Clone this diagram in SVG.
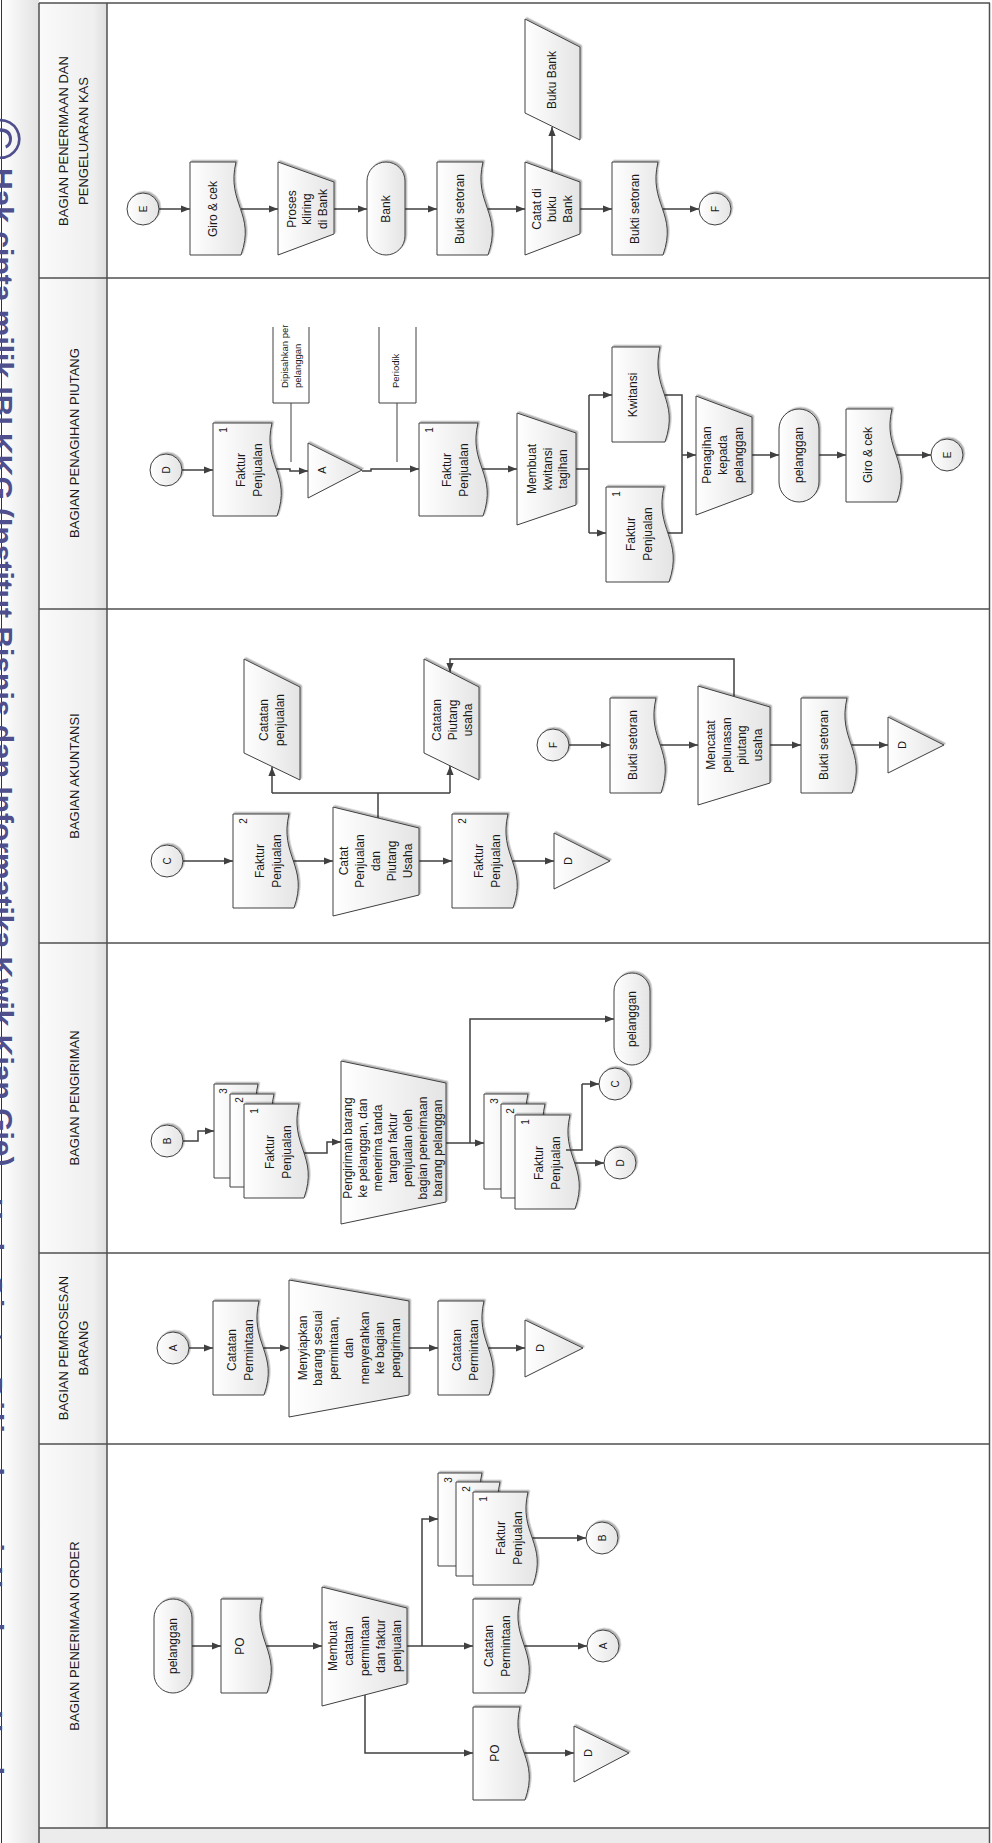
<svg xmlns="http://www.w3.org/2000/svg" width="992" height="1843" viewBox="0 0 992 1843">
<defs>
<linearGradient id="g" x1="0" y1="0" x2="1" y2="0"><stop offset="0" stop-color="#ffffff"/><stop offset="1" stop-color="#e4e4e4"/></linearGradient>
<linearGradient id="hg" x1="0" y1="0" x2="1" y2="0"><stop offset="0" stop-color="#fafafa"/><stop offset="0.8" stop-color="#efefef"/><stop offset="1" stop-color="#dedede"/></linearGradient>
<linearGradient id="lg" x1="0" y1="0" x2="1" y2="0"><stop offset="0" stop-color="#ffffff"/><stop offset="1" stop-color="#e2e2e2"/></linearGradient>
<filter id="sh" x="-20%" y="-20%" width="140%" height="140%"><feDropShadow dx="1.5" dy="-1.5" stdDeviation="0.7" flood-color="#000" flood-opacity="0.3"/></filter>
<marker id="ah" viewBox="0 0 10 8" refX="10" refY="4" markerWidth="9" markerHeight="7.2" markerUnits="userSpaceOnUse" orient="auto"><path d="M0,0L10,4L0,8Z" fill="#404040"/></marker>
</defs>
<style>
.n{fill:url(#g);stroke:#404040;stroke-width:1;filter:url(#sh)}
.c{fill:none;stroke:#404040;stroke-width:1.5}
.a{marker-end:url(#ah)}
.an{fill:none;stroke:#404040;stroke-width:1}
.ln{stroke:#505050;stroke-width:1.5;fill:none}
.t,.t tspan{font-family:"Liberation Sans",Arial,sans-serif;font-size:12px;fill:#1a1a1a;text-anchor:middle;dominant-baseline:central}
.s{font-size:10px}
.k{font-size:11px}
.num{font-family:"Liberation Sans",Arial,sans-serif;font-size:10px;fill:#1a1a1a;text-anchor:middle;dominant-baseline:central}
.note{font-family:"Liberation Sans",Arial,sans-serif;font-size:9.5px;fill:#1a1a1a;text-anchor:start;dominant-baseline:central}
.h,.h tspan{font-family:"Liberation Sans",Arial,sans-serif;font-size:13px;fill:#1a1a1a;text-anchor:middle;dominant-baseline:central}
.wm{font-family:"Liberation Sans",Arial,sans-serif;font-weight:bold;fill:#4f4f8e}
</style>

<g id="background">
<rect x="0" y="0" width="992" height="1843" fill="#ffffff"/>
<rect x="0" y="0" width="39" height="1843" fill="url(#lg)"/>
<rect x="39" y="3" width="68" height="1825" fill="url(#hg)"/>
<rect x="39" y="1828" width="951" height="15" fill="#ececec"/>
<line x1="1.5" y1="0" x2="1.5" y2="1843" stroke="#333" stroke-width="1"/>
</g>

<g id="watermark">
<text class="wm" font-size="57" text-anchor="middle" transform="translate(-20,139) rotate(90)" style="font-weight:normal">©</text>
<text class="wm" font-size="30" transform="translate(-8,168) rotate(90)">Hak cipta milik IBI KKG (Institut Bisnis dan Informatika Kwik Kian Gie)</text>
<text class="wm" font-size="30" transform="translate(-18,1198) rotate(90)" textLength="640" lengthAdjust="spacing">Hak Cipta Dilindungi Undang-Undang</text>
</g>

<g id="lanes">
<path class="ln" d="M39,3H990M39,278H990M39,609H990M39,943H990M39,1253H990M39,1444H990M39,1828H990"/>
<path class="ln" d="M39,3V1843M107,3V1828M989.5,3V1843"/>
<text class="h" transform="translate(73,141) rotate(-90)"><tspan x="0" y="-10">BAGIAN PENERIMAAN DAN</tspan><tspan x="0" y="10">PENGELUARAN KAS</tspan></text>
<text class="h" transform="translate(74,443) rotate(-90)">BAGIAN PENAGIHAN PIUTANG</text>
<text class="h" transform="translate(74,776) rotate(-90)">BAGIAN AKUNTANSI</text>
<text class="h" transform="translate(74,1098) rotate(-90)">BAGIAN PENGIRIMAN</text>
<text class="h" transform="translate(73,1348) rotate(-90)"><tspan x="0" y="-10">BAGIAN PEMROSESAN</tspan><tspan x="0" y="10">BARANG</tspan></text>
<text class="h" transform="translate(74,1636) rotate(-90)">BAGIAN PENERIMAAN ORDER</text>
</g>

<g id="connectors">
<path class="c a" d="M159,209H190"/>
<path class="c a" d="M241,209H278"/>
<path class="c a" d="M334,209H367"/>
<path class="c a" d="M405,209H437"/>
<path class="c a" d="M487,209H525"/>
<path class="c a" d="M580,209H612"/>
<path class="c a" d="M662,209H699"/>
<path class="c a" d="M552,172V127"/>

<path class="c a" d="M182,470H213"/>
<path class="c a" d="M276,469H290V471H308"/>
<path class="c a" d="M362,471H371V469H419"/>
<path class="c a" d="M482,469H517"/>
<path class="c" d="M576,469H589M589,395V533"/>
<path class="c a" d="M589,395H612"/>
<path class="c a" d="M589,533H606"/>
<path class="c" d="M664,395H682V533H668"/>
<path class="c a" d="M682,455H696"/>
<path class="c a" d="M752,455H779"/>
<path class="c a" d="M819,455H846"/>
<path class="c a" d="M896,455H931"/>
<path class="an" d="M273,327V403H309V327M291,403V462"/>
<path class="an" d="M379,327V403H416V327M397,403V462"/>

<path class="c a" d="M183,861H233"/>
<path class="c a" d="M293,861H333"/>
<path class="c a" d="M419,861H452"/>
<path class="c a" d="M512,861H554"/>
<path class="c" d="M378,818V793M272,793H450"/>
<path class="c a" d="M272,793V767"/>
<path class="c a" d="M450,793V766"/>
<path class="c a" d="M569,745H610"/>
<path class="c a" d="M660,745H698"/>
<path class="c a" d="M770,745H801"/>
<path class="c a" d="M851,745H888"/>
<path class="c a" d="M734,696V659H450V672"/>

<path class="c a" d="M183,1141H198V1131H214"/>
<path class="c a" d="M304,1153H327V1142H341"/>
<path class="c a" d="M446,1143H484"/>
<path class="c a" d="M470,1143V1019H614"/>

<path class="c a" d="M189,1348H213"/>
<path class="c a" d="M263,1348H289"/>
<path class="c a" d="M409,1348H438"/>
<path class="c a" d="M488,1348H525"/>

<path class="c a" d="M192,1646H221"/>
<path class="c a" d="M266,1646H322"/>
<path class="c a" d="M407,1646H473"/>
<path class="c a" d="M422,1646V1519H438"/>
<path class="c a" d="M532,1538H586"/>
<path class="c a" d="M524,1646H587"/>
<path class="c a" d="M365,1695V1753H473"/>
<path class="c a" d="M524,1753H574"/>
</g>

<!-- Lane 1 -->
<g id="n-e1"><circle class="n" cx="143" cy="209" r="16"/><text class="t s" transform="translate(143,209) rotate(-90)">E</text></g>
<g id="n-giro1"><path class="n" d="M190,162H236C226,204 256,213 241,255H190Z"/><text class="t" transform="translate(213,209) rotate(-90)">Giro &amp; cek</text></g>
<g id="n-kliring"><path class="n" d="M278,162L334,182L334,234L278,255Z"/><text class="t" transform="translate(307,209) rotate(-90)"><tspan x="0" y="-15.5">Proses</tspan><tspan x="0" y="0">kliring</tspan><tspan x="0" y="15.5">di Bank</tspan></text></g>
<g id="n-bank"><rect class="n" x="367" y="162" width="38" height="93" rx="19" ry="19"/><text class="t" transform="translate(386,209) rotate(-90)">Bank</text></g>
<g id="n-bukti1"><path class="n" d="M437,162H483C473,204 503,213 488,255H437Z"/><text class="t" transform="translate(460,209) rotate(-90)">Bukti setoran</text></g>
<g id="n-catatbuku"><path class="n" d="M525,162L580,182L580,234L525,255Z"/><text class="t" transform="translate(552,209) rotate(-90)"><tspan x="0" y="-15.5">Catat di</tspan><tspan x="0" y="0">buku</tspan><tspan x="0" y="15.5">Bank</tspan></text></g>
<g id="n-bukubank"><path class="n" d="M525,19L580,47L580,140L525,113Z"/><text class="t" transform="translate(552,80) rotate(-90)">Buku Bank</text></g>
<g id="n-bukti2"><path class="n" d="M612,162H658C648,204 678,213 663,255H612Z"/><text class="t" transform="translate(635,209) rotate(-90)">Bukti setoran</text></g>
<g id="n-f1"><circle class="n" cx="715" cy="209" r="16"/><text class="t s" transform="translate(715,209) rotate(-90)">F</text></g>

<!-- Lane 2 -->
<g id="n-d2"><circle class="n" cx="166" cy="470" r="16"/><text class="t s" transform="translate(166,470) rotate(-90)">D</text></g>
<g id="n-faktur2a"><path class="n" d="M213,423H272C262,465 292,474 277,516H213Z"/><text class="num" transform="translate(223,430) rotate(-90)">1</text><text class="t" transform="translate(249.5,470) rotate(-90)"><tspan x="0" y="-8.5">Faktur</tspan><tspan x="0" y="8.5">Penjualan</tspan></text></g>
<g id="n-note1"><text class="note" transform="translate(284,388) rotate(-90)">Dipisahkan per</text><text class="note" transform="translate(297,388) rotate(-90)">pelanggan</text></g>
<g id="n-filea"><polygon class="n" points="308,443 308,498 362,470"/><text class="t k" transform="translate(322,470) rotate(-90)">A</text></g>
<g id="n-note2"><text class="note" transform="translate(395,388) rotate(-90)">Periodik</text></g>
<g id="n-faktur2b"><path class="n" d="M419,423H478C468,465 498,474 483,516H419Z"/><text class="num" transform="translate(429,430) rotate(-90)">1</text><text class="t" transform="translate(455.5,470) rotate(-90)"><tspan x="0" y="-8.5">Faktur</tspan><tspan x="0" y="8.5">Penjualan</tspan></text></g>
<g id="n-kwtagihan"><path class="n" d="M517,413L576,433L576,505L517,525Z"/><text class="t" transform="translate(547.5,469) rotate(-90)"><tspan x="0" y="-15.5">Membuat</tspan><tspan x="0" y="0">kwitansi</tspan><tspan x="0" y="15.5">tagihan</tspan></text></g>
<g id="n-kwitansi"><path class="n" d="M612,347H660C650,390 680,399 665,442H612Z"/><text class="t" transform="translate(633,395) rotate(-90)">Kwitansi</text></g>
<g id="n-faktur2c"><path class="n" d="M606,487H664C654,530 684,539 669,582H606Z"/><text class="num" transform="translate(616,494) rotate(-90)">1</text><text class="t" transform="translate(639.5,534) rotate(-90)"><tspan x="0" y="-8.5">Faktur</tspan><tspan x="0" y="8.5">Penjualan</tspan></text></g>
<g id="n-penagihan"><path class="n" d="M696,396L752,417L752,494L696,515Z"/><text class="t" transform="translate(723,455) rotate(-90)"><tspan x="0" y="-16">Penagihan</tspan><tspan x="0" y="0">kepada</tspan><tspan x="0" y="16">pelanggan</tspan></text></g>
<g id="n-pel2"><rect class="n" x="779" y="409" width="40" height="93" rx="20" ry="20"/><text class="t" transform="translate(799,455) rotate(-90)">pelanggan</text></g>
<g id="n-giro2"><path class="n" d="M846,409H892C882,451 912,460 897,502H846Z"/><text class="t" transform="translate(868,455) rotate(-90)">Giro &amp; cek</text></g>
<g id="n-e2"><circle class="n" cx="947" cy="455" r="16"/><text class="t s" transform="translate(947,455) rotate(-90)">E</text></g>

<!-- Lane 3 -->
<g id="n-c3"><circle class="n" cx="167" cy="861" r="16"/><text class="t s" transform="translate(167,861) rotate(-90)">C</text></g>
<g id="n-faktur3a"><path class="n" d="M233,814H289C279,856 309,866 294,908H233Z"/><text class="num" transform="translate(243,821) rotate(-90)">2</text><text class="t" transform="translate(268,861) rotate(-90)"><tspan x="0" y="-8.5">Faktur</tspan><tspan x="0" y="8.5">Penjualan</tspan></text></g>
<g id="n-catatpj"><path class="n" d="M333,807L419,828L419,895L333,916Z"/><text class="t" transform="translate(376,861) rotate(-90)"><tspan x="0" y="-32">Catat</tspan><tspan x="0" y="-16">Penjualan</tspan><tspan x="0" y="0">dan</tspan><tspan x="0" y="16">Piutang</tspan><tspan x="0" y="32">Usaha</tspan></text></g>
<g id="n-faktur3b"><path class="n" d="M452,814H508C498,856 528,866 513,908H452Z"/><text class="num" transform="translate(462,821) rotate(-90)">2</text><text class="t" transform="translate(487,861) rotate(-90)"><tspan x="0" y="-8.5">Faktur</tspan><tspan x="0" y="8.5">Penjualan</tspan></text></g>
<g id="n-d3a"><polygon class="n" points="554,833 554,889 610,861"/><text class="t k" transform="translate(568,861) rotate(-90)">D</text></g>
<g id="n-catpenj"><path class="n" d="M244,659L300,687L300,780L244,753Z"/><text class="t" transform="translate(271.5,720) rotate(-90)"><tspan x="0" y="-8">Catatan</tspan><tspan x="0" y="8">penjualan</tspan></text></g>
<g id="n-catpiut"><path class="n" d="M424,659L479,687L479,780L424,753Z"/><text class="t" transform="translate(452.5,720) rotate(-90)"><tspan x="0" y="-15.5">Catatan</tspan><tspan x="0" y="0">Piutang</tspan><tspan x="0" y="15.5">usaha</tspan></text></g>
<g id="n-f3"><circle class="n" cx="553" cy="745" r="16"/><text class="t s" transform="translate(553,745) rotate(-90)">F</text></g>
<g id="n-bukti3a"><path class="n" d="M610,698H656C646,741 676,750 661,793H610Z"/><text class="t" transform="translate(633,745) rotate(-90)">Bukti setoran</text></g>
<g id="n-mencatat"><path class="n" d="M698,686L770,707L770,783L698,805Z"/><text class="t" transform="translate(734.5,745) rotate(-90)"><tspan x="0" y="-23.25">Mencatat</tspan><tspan x="0" y="-7.75">pelunasan</tspan><tspan x="0" y="7.75">piutang</tspan><tspan x="0" y="23.25">usaha</tspan></text></g>
<g id="n-bukti3b"><path class="n" d="M801,698H847C837,741 867,750 852,793H801Z"/><text class="t" transform="translate(824,745) rotate(-90)">Bukti setoran</text></g>
<g id="n-d3b"><polygon class="n" points="888,717 888,773 944,745"/><text class="t k" transform="translate(902,745) rotate(-90)">D</text></g>

<!-- Lane 4 -->
<g id="n-b4"><circle class="n" cx="167" cy="1141" r="16"/><text class="t s" transform="translate(167,1141) rotate(-90)">B</text></g>
<g id="n-stack4a">
<path class="n" d="M214,1084H258C248,1126 278,1136 263,1178H214Z"/>
<path class="n" d="M230,1094H274C264,1136 294,1145 279,1187H230Z"/>
<path class="n" d="M244,1104H299C289,1146 319,1156 304,1198H244Z"/>
<text class="num" transform="translate(223,1091) rotate(-90)">3</text>
<text class="num" transform="translate(239,1100) rotate(-90)">2</text>
<text class="num" transform="translate(254,1111) rotate(-90)">1</text>
<text class="t" transform="translate(278,1152) rotate(-90)"><tspan x="0" y="-8.5">Faktur</tspan><tspan x="0" y="8.5">Penjualan</tspan></text>
</g>
<g id="n-pengiriman"><path class="n" d="M341,1061L446,1083L446,1202L341,1224Z"/><text class="t" transform="translate(393,1148) rotate(-90)"><tspan x="0" y="-45">Pengiriman barang</tspan><tspan x="0" y="-30">ke pelanggan, dan</tspan><tspan x="0" y="-15">menerima tanda</tspan><tspan x="0" y="0">tangan faktur</tspan><tspan x="0" y="15">penjualan oleh</tspan><tspan x="0" y="30">bagian penerimaan</tspan><tspan x="0" y="45">barang pelanggan</tspan></text></g>
<g id="n-stack4b">
<path class="n" d="M484,1094H528C518,1137 548,1146 533,1189H484Z"/>
<path class="n" d="M501,1104H545C535,1146 565,1156 550,1198H501Z"/>
<path class="n" d="M515,1115H570C560,1157 590,1167 575,1209H515Z"/>
<text class="num" transform="translate(494,1101) rotate(-90)">3</text>
<text class="num" transform="translate(510,1111) rotate(-90)">2</text>
<text class="num" transform="translate(525,1122) rotate(-90)">1</text>
<text class="t" transform="translate(547,1163) rotate(-90)"><tspan x="0" y="-8.5">Faktur</tspan><tspan x="0" y="8.5">Penjualan</tspan></text>
</g>
<g id="n-c4"><circle class="n" cx="615" cy="1084" r="16"/><text class="t s" transform="translate(615,1084) rotate(-90)">C</text></g>
<g id="n-d4"><circle class="n" cx="620" cy="1163" r="16"/><text class="t s" transform="translate(620,1163) rotate(-90)">D</text></g>
<g id="n-pel4"><rect class="n" x="614" y="973" width="36" height="92" rx="18" ry="18"/><text class="t" transform="translate(632,1019) rotate(-90)">pelanggan</text></g>
<g id="connectors-overlay"><path class="c" d="M566,1150H582V1084"/><path class="c a" d="M582,1084H599"/><path class="c a" d="M575,1163H604"/></g>

<!-- Lane 5 -->
<g id="n-a5"><circle class="n" cx="173" cy="1348" r="16"/><text class="t s" transform="translate(173,1348) rotate(-90)">A</text></g>
<g id="n-catper5a"><path class="n" d="M213,1301H259C249,1343 279,1353 264,1395H213Z"/><text class="t" transform="translate(240.5,1350) rotate(-90)"><tspan x="0" y="-8.5">Catatan</tspan><tspan x="0" y="8.5">Permintaan</tspan></text></g>
<g id="n-menyiapkan"><path class="n" d="M289,1280L409,1301L409,1395L289,1417Z"/><text class="t" transform="translate(349,1348) rotate(-90)"><tspan x="0" y="-46.5">Menyiapkan</tspan><tspan x="0" y="-31">barang sesuai</tspan><tspan x="0" y="-15.5">permintaan,</tspan><tspan x="0" y="0">dan</tspan><tspan x="0" y="15.5">menyerahkan</tspan><tspan x="0" y="31">ke bagian</tspan><tspan x="0" y="46.5">pengiriman</tspan></text></g>
<g id="n-catper5b"><path class="n" d="M438,1301H484C474,1343 504,1353 489,1395H438Z"/><text class="t" transform="translate(465.5,1350) rotate(-90)"><tspan x="0" y="-8.5">Catatan</tspan><tspan x="0" y="8.5">Permintaan</tspan></text></g>
<g id="n-d5"><polygon class="n" points="525,1320 525,1377 583,1348"/><text class="t k" transform="translate(540,1348) rotate(-90)">D</text></g>

<!-- Lane 6 -->
<g id="n-pel6"><rect class="n" x="154" y="1599" width="38" height="94" rx="19" ry="19"/><text class="t" transform="translate(173,1646) rotate(-90)">pelanggan</text></g>
<g id="n-po6a"><path class="n" d="M221,1599H262C252,1641 282,1651 267,1693H221Z"/><text class="t" transform="translate(240,1646) rotate(-90)">PO</text></g>
<g id="n-membuat6"><path class="n" d="M322,1587L407,1608L407,1684L322,1706Z"/><text class="t" transform="translate(365,1646) rotate(-90)"><tspan x="0" y="-32">Membuat</tspan><tspan x="0" y="-16">catatan</tspan><tspan x="0" y="0">permintaan</tspan><tspan x="0" y="16">dan faktur</tspan><tspan x="0" y="32">penjualan</tspan></text></g>
<g id="n-stack6">
<path class="n" d="M438,1473H482C472,1515 502,1524 487,1566H438Z"/>
<path class="n" d="M456,1482H500C490,1524 520,1534 505,1576H456Z"/>
<path class="n" d="M473,1492H528C518,1534 548,1543 533,1585H473Z"/>
<text class="num" transform="translate(448,1480) rotate(-90)">3</text>
<text class="num" transform="translate(466,1489) rotate(-90)">2</text>
<text class="num" transform="translate(483,1499) rotate(-90)">1</text>
<text class="t" transform="translate(509,1538) rotate(-90)"><tspan x="0" y="-8.5">Faktur</tspan><tspan x="0" y="8.5">Penjualan</tspan></text>
</g>
<g id="n-catper6"><path class="n" d="M473,1599H520C510,1641 540,1651 525,1693H473Z"/><text class="t" transform="translate(497,1646) rotate(-90)"><tspan x="0" y="-8.5">Catatan</tspan><tspan x="0" y="8.5">Permintaan</tspan></text></g>
<g id="n-po6b"><path class="n" d="M473,1707H520C510,1749 540,1758 525,1800H473Z"/><text class="t" transform="translate(495,1753) rotate(-90)">PO</text></g>
<g id="n-b6"><circle class="n" cx="602" cy="1538" r="16"/><text class="t s" transform="translate(602,1538) rotate(-90)">B</text></g>
<g id="n-a6"><circle class="n" cx="603" cy="1646" r="16"/><text class="t s" transform="translate(603,1646) rotate(-90)">A</text></g>
<g id="n-d6"><polygon class="n" points="574,1726 574,1782 629,1753"/><text class="t k" transform="translate(588,1753) rotate(-90)">D</text></g>
</svg>
